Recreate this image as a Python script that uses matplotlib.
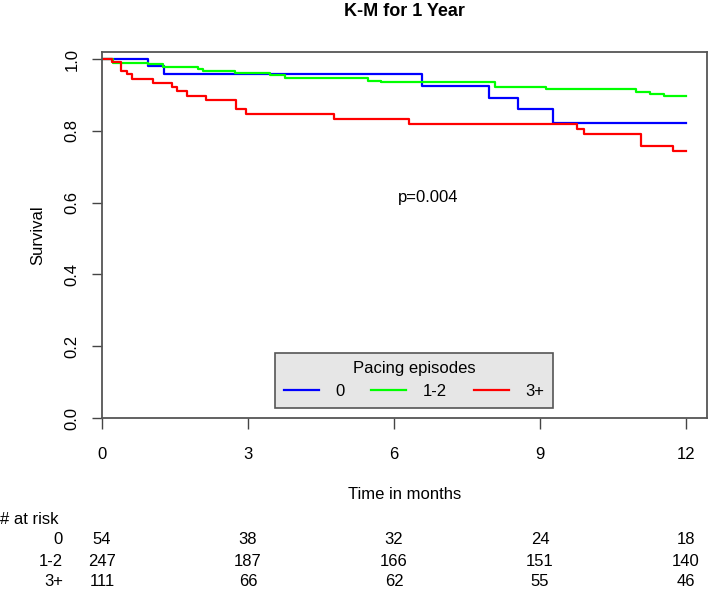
import numpy as np
import matplotlib
matplotlib.use("Agg")
import matplotlib.pyplot as plt
from matplotlib.transforms import blended_transform_factory

plt.rcParams['font.family'] = ['Liberation Sans', 'DejaVu Sans']

# Kaplan-Meier step data (months, survival)
t_0 = [0, 0.95, 1.28, 6.57, 7.95, 8.54, 9.27, 12]
s_0 = [1, 0.981, 0.959, 0.926, 0.892, 0.860, 0.823, 0.823]

t_12 = [0, 0.23, 0.95, 1.26, 1.98, 2.08, 2.74, 3.46, 3.77, 5.46, 5.73,
        8.08, 9.13, 10.97, 11.26, 11.55, 12]
s_12 = [1, 0.990, 0.987, 0.977, 0.971, 0.967, 0.962, 0.955, 0.946, 0.940, 0.935,
        0.923, 0.916, 0.909, 0.903, 0.896, 0.896]

t_3 = [0, 0.20, 0.39, 0.51, 0.62, 1.05, 1.44, 1.55, 1.75, 2.14, 2.76, 2.95,
       4.77, 6.30, 9.75, 9.91, 11.07, 11.73, 12]
s_3 = [1, 0.991, 0.967, 0.957, 0.945, 0.934, 0.923, 0.912, 0.897, 0.886, 0.860, 0.847,
       0.834, 0.820, 0.806, 0.790, 0.759, 0.743, 0.743]

groups = ['0', '1-2', '3+']
colors = ['#0000ff', '#00ff00', '#ff0000']

risk_times = [0, 3, 6, 9, 12]
risk_0 = [54, 38, 32, 24, 18]
risk_12 = [247, 187, 166, 151, 140]
risk_3 = [111, 66, 62, 55, 46]

fig = plt.figure(figsize=(7.09, 5.90), dpi=100)
ax = fig.add_axes([102/709, 1 - 418/590, (707-102)/709, (418-52)/590])

for tt, ss, c, g in zip([t_0, t_12, t_3], [s_0, s_12, s_3], colors, groups):
    ax.step(tt, ss, where='post', color=c, lw=1.6, label=g)

ax.set_xlim(0, 12.43)
ax.set_ylim(0, 1.0195)
ax.set_xticks(risk_times)
ax.set_yticks([0, 0.2, 0.4, 0.6, 0.8, 1.0])
ax.set_yticklabels(['0.0', '0.2', '0.4', '0.6', '0.8', '1.0'], rotation=90, va='center')
ax.tick_params(axis='y', length=7, width=1, color='#444444', labelsize=12, pad=9)
ax.tick_params(axis='x', length=8, width=1, color='#444444', labelsize=12, pad=13)
for sp in ax.spines.values():
    sp.set_color('#555555')
    sp.set_linewidth(1.3)

ax.set_ylabel('Survival', fontsize=12, labelpad=14)
ax.set_xlabel('Time in months', fontsize=12, labelpad=18)
ax.set_title('K-M for 1 Year', fontsize=13, fontweight='bold', pad=26)

ax.text(6.7, 0.613, 'p=0.004', fontsize=12, ha='center', va='center')

leg = ax.legend(title='Pacing episodes', ncol=3, fontsize=12, title_fontsize=12,
                loc='center', bbox_to_anchor=(414/709, 1 - 380/590),
                bbox_transform=fig.transFigure, fancybox=False,
                facecolor='#e6e6e6', edgecolor='#555555', framealpha=1,
                handlelength=2.1, handletextpad=1.0, columnspacing=1.6,
                borderpad=0.5)
leg.get_frame().set_linewidth(1.2)

# number at risk table
tr = blended_transform_factory(ax.transData, fig.transFigure)
fig.text(0, 1 - 520/590, '# at risk', fontsize=12, ha='left', va='center')
for k, (g, vals) in enumerate(zip(groups, [risk_0, risk_12, risk_3])):
    y = 1 - (540 + 21*k)/590
    fig.text(63/709, y, g, fontsize=12, ha='right', va='center')
    for xt, v in zip(risk_times, vals):
        ax.text(xt, y, str(v), fontsize=12, ha='center', va='center', transform=tr)

fig.savefig('out.png', dpi=100)
